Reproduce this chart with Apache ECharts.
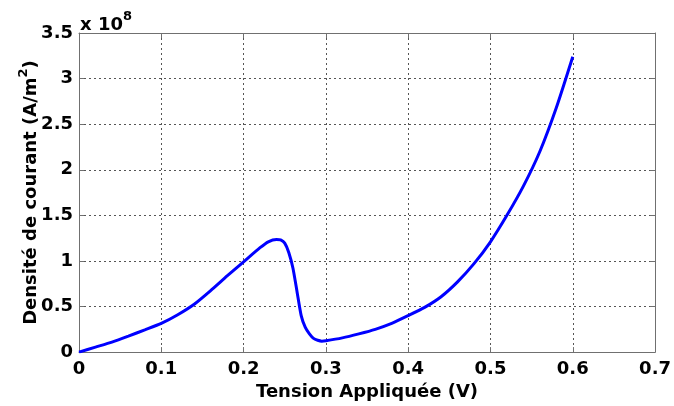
<!DOCTYPE html>
<html>
<head>
<meta charset="utf-8">
<script src="https://cdn.jsdelivr.net/npm/echarts@6/dist/echarts.min.js"></script>
<style>html,body{margin:0;padding:0;background:#fff}#c{width:674px;height:406px}</style>
</head>
<body>
<div id="c"></div>
<script>
// Applied voltage (V)
var voltage = [0, 0.02, 0.04, 0.06, 0.08, 0.10, 0.12, 0.14, 0.16, 0.18, 0.20, 0.22, 0.23, 0.24, 0.245, 0.25, 0.255, 0.26, 0.265, 0.27, 0.275, 0.28, 0.285, 0.29, 0.295, 0.30, 0.32, 0.34, 0.36, 0.38, 0.40, 0.42, 0.44, 0.46, 0.48, 0.50, 0.52, 0.54, 0.56, 0.58, 0.60];
// Current density (x 1e8 A/m^2)
var density = [0, 0.055, 0.11, 0.175, 0.244, 0.315, 0.41, 0.525, 0.675, 0.835, 0.99, 1.145, 1.21, 1.235, 1.23, 1.195, 1.09, 0.92, 0.66, 0.40, 0.27, 0.20, 0.15, 0.13, 0.12, 0.124, 0.156, 0.20, 0.25, 0.315, 0.40, 0.49, 0.607, 0.77, 0.97, 1.21, 1.50, 1.82, 2.20, 2.68, 3.24];
var xTicks = [0, 0.1, 0.2, 0.3, 0.4, 0.5, 0.6, 0.7];
var yTicks = [0, 0.5, 1, 1.5, 2, 2.5, 3, 3.5];

var FONT = 'DejaVu Sans';
var FS = 18;
var pts = voltage.map(function (v, i) { return [v, density[i]]; });
var chart = echarts.init(document.getElementById('c'), null, {renderer: 'canvas'});
var frameColor = '#707070';
var gridStyle = {show: true, lineStyle: {color: '#555', type: [2, 3], width: 1}};
chart.setOption({
  animation: false,
  backgroundColor: '#fff',
  grid: {left: 79, right: 16, top: 33, bottom: 52, containLabel: false},
  xAxis: [{
    type: 'value', min: xTicks[0], max: xTicks[xTicks.length - 1], interval: 0.1,
    axisLine: {show: true, onZero: false, lineStyle: {color: frameColor, width: 1}},
    axisTick: {show: true, inside: true, length: 5, lineStyle: {color: frameColor}},
    splitLine: gridStyle,
    axisLabel: {color: '#000', fontFamily: FONT, fontWeight: 'bold', fontSize: FS, margin: 8,
      formatter: function (v) { return String(Math.round(v * 10) / 10); }},
    name: 'Tension Appliquée (V)', nameLocation: 'middle', nameGap: 30,
    nameTextStyle: {color: '#000', fontFamily: FONT, fontWeight: 'bold', fontSize: FS}
  }, {
    type: 'value', position: 'top', min: 0, max: 0.7, interval: 0.1,
    axisLine: {show: true, onZero: false, lineStyle: {color: frameColor, width: 1}},
    axisTick: {show: true, inside: true, length: 5, lineStyle: {color: frameColor}},
    splitLine: {show: false}, axisLabel: {show: false}
  }],
  yAxis: [{
    type: 'value', min: yTicks[0], max: yTicks[yTicks.length - 1], interval: 0.5,
    axisLine: {show: true, onZero: false, lineStyle: {color: frameColor, width: 1}},
    axisTick: {show: true, inside: true, length: 5, lineStyle: {color: frameColor}},
    splitLine: gridStyle,
    axisLabel: {color: '#000', fontFamily: FONT, fontWeight: 'bold', fontSize: FS, margin: 6,
      formatter: function (v) { return String(Math.round(v * 10) / 10); }},
    name: '{t|Densité de courant (A/m}{s|2}{t|)}', nameLocation: 'middle', nameGap: 39,
    nameMoveOverlap: false,
    nameTextStyle: {
      rich: {
        t: {color: '#000', fontFamily: FONT, fontWeight: 'bold', fontSize: FS, verticalAlign: 'bottom', lineHeight: 22},
        s: {color: '#000', fontFamily: FONT, fontWeight: 'bold', fontSize: 13, verticalAlign: 'bottom', lineHeight: 14, padding: [0, 0, 10, 0]}
      }
    }
  }, {
    type: 'value', position: 'right', min: 0, max: 3.5, interval: 0.5,
    axisLine: {show: true, onZero: false, lineStyle: {color: frameColor, width: 1}},
    axisTick: {show: true, inside: true, length: 5, lineStyle: {color: frameColor}},
    splitLine: {show: false}, axisLabel: {show: false}
  }],
  graphic: [{
    type: 'text', left: 80, top: 10,
    style: {
      text: '{a|x 10}{b|8}',
      rich: {
        a: {fill: '#000', fontFamily: FONT, fontWeight: 'bold', fontSize: FS, verticalAlign: 'bottom', lineHeight: 24},
        b: {fill: '#000', fontFamily: FONT, fontWeight: 'bold', fontSize: 13, verticalAlign: 'top', lineHeight: 24}
      }
    }
  }],
  series: [{
    type: 'line', data: pts, showSymbol: false, smooth: 0.2,
    lineStyle: {color: '#0000ff', width: 3}, xAxisIndex: 0, yAxisIndex: 0
  }]
});
</script>
</body>
</html>
